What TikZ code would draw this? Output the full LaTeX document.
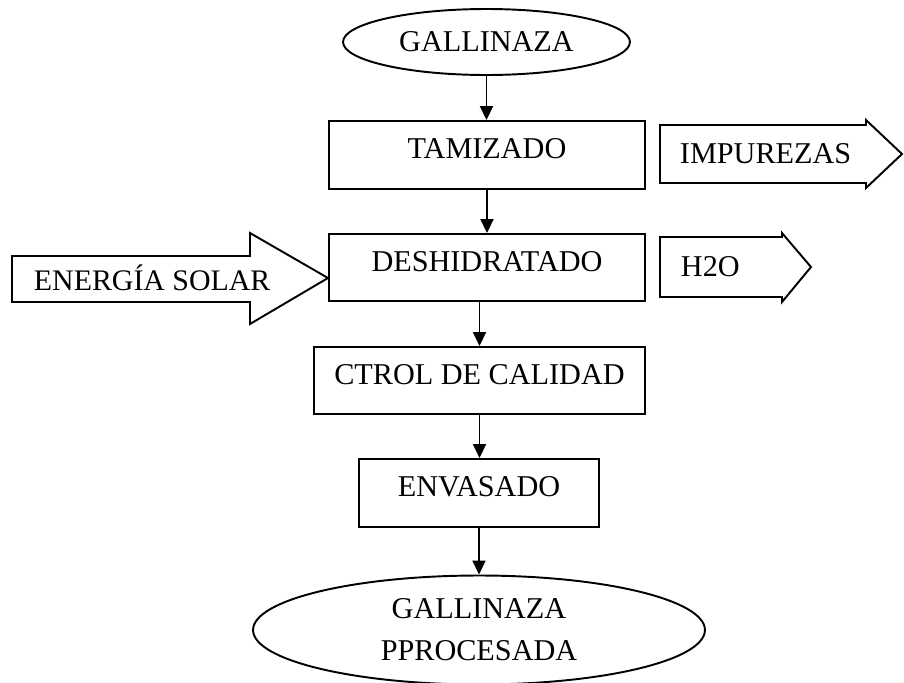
\documentclass[tikz,border=0pt]{standalone}
\usepackage{fontspec}
\setmainfont{Liberation Serif}
\usetikzlibrary{shapes.geometric,arrows.meta}

\begin{document}
\begin{tikzpicture}[x=0.02cm, y=-0.02cm, line width=1.1pt,
  every node/.style={font=\fontsize{17.2}{24}\selectfont},
  caja/.style={draw, rectangle, inner sep=0pt, text height=0.40cm, text depth=0.25cm},
  elipse/.style={draw, ellipse, inner sep=0pt, align=center},
  flecha/.style={-{Triangle[length=0.28cm,width=0.26cm]}},
  rotulo/.style={inner sep=0pt, anchor=west, text height=0.40cm, text depth=0pt}]
  \useasboundingbox (0,0) rectangle (904,683);
  % proceso principal
  \node[elipse, minimum width=5.74cm, minimum height=1.32cm] (gal) at (486.5,42) {GALLINAZA};
  \node[caja, minimum width=6.32cm, minimum height=1.36cm] (tam) at (487,155) {TAMIZADO};
  \node[caja, minimum width=6.32cm, minimum height=1.34cm] (desh) at (487,267.5) {DESHIDRATADO};
  \node[caja, minimum width=6.62cm, minimum height=1.34cm] (ctrl) at (479.5,380.5) {CTROL DE CALIDAD};
  \node[caja, minimum width=4.80cm, minimum height=1.36cm] (env) at (479,493) {ENVASADO};
  \node[elipse, minimum width=9.04cm, minimum height=2.18cm] (fin) at (479,630) {GALLINAZA\\PPROCESADA};
  \draw[flecha] (gal.south) -- (gal.south |- tam.north);
  \draw[flecha] (tam.south) -- (desh.north);
  \draw[flecha] (desh.south -| ctrl.north) -- (ctrl.north);
  \draw[flecha] (ctrl.south) -- (ctrl.south |- env.north);
  \draw[flecha] (env.south) -- (env.south |- fin.north);
  % entradas y salidas
  \draw (660,125) -- (866,125) -- (866,120) -- (902,154) -- (866,188) -- (866,183) -- (660,183) -- cycle;
  \node[rotulo] (imp) at (679,153) {IMPUREZAS};
  \draw (660,237) -- (782,237) -- (782,233) -- (811,267) -- (782,302) -- (782,297) -- (660,297) -- cycle;
  \node[rotulo] (agua) at (680,266) {H2O};
  \draw (12,256) -- (250,256) -- (250,233) -- (328,278) -- (250,324) -- (250,302) -- (12,302) -- cycle;
  \node[rotulo, font=\fontsize{17}{20}\selectfont] (sol) at (33,280) {ENERGÍA SOLAR};
\end{tikzpicture}
\end{document}
